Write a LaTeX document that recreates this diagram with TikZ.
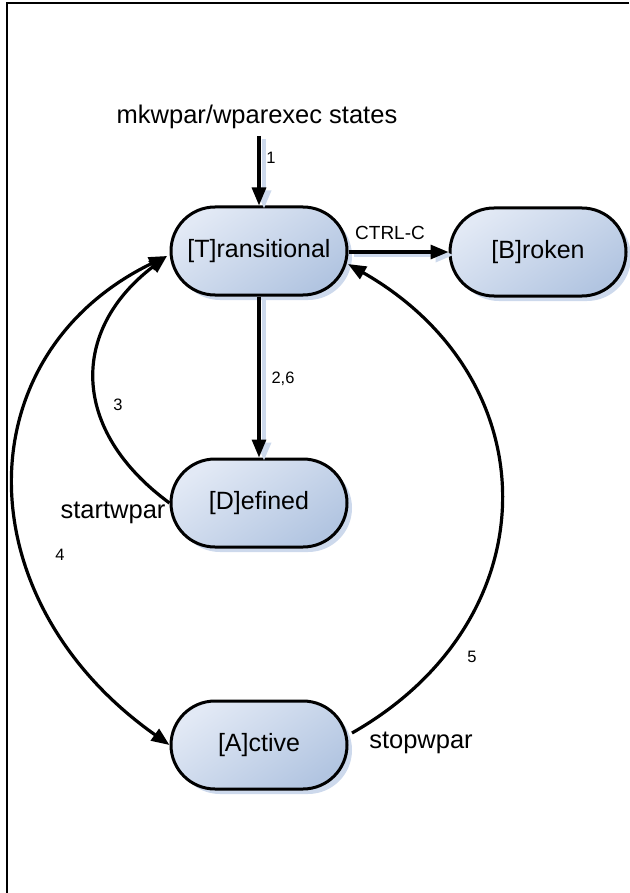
\documentclass[tikz,border=0pt]{standalone}
\usepackage{fontspec}
\setmainfont{Liberation Sans}
\usetikzlibrary{arrows.meta,shapes.misc,shadows}
\definecolor{stLight}{RGB}{226,233,245}
\definecolor{stDark}{RGB}{178,197,225}
\definecolor{stShadow}{RGB}{205,217,236}
\tikzset{
  tip/.tip={Triangle[length=18pt,width=14pt]},
  state/.style={rounded rectangle, draw=black, line width=3pt,
    minimum width=176pt, minimum height=88pt, inner sep=0pt,
    top color=stLight, bottom color=stDark, shading angle=35,
    drop shadow={fill=stShadow, opacity=1, shadow xshift=5pt, shadow yshift=-5pt},
    font=\fontsize{25}{30}\selectfont},
  trans/.style={line width=3.2pt, -tip},
  trans2/.style={line width=3.2pt, tip-tip},
  tshadow/.style={line width=3.5pt, draw=stShadow, -tip,
    transform canvas={shift={(5pt,-3pt)}}},
  small/.style={font=\fontsize{16.5}{19}\selectfont, inner sep=0pt},
  mid/.style={font=\fontsize{19}{23}\selectfont, inner sep=0pt},
  big/.style={font=\fontsize{25.5}{30}\selectfont, inner sep=0pt},
}
\begin{document}
\begin{tikzpicture}[x=1pt, y=-1pt]
  \useasboundingbox (0,0) rectangle (629,893);
  % page frame (top and left edges)
  \draw[line width=1.5pt] (629,3) -- (7,3) -- (7,893);

  % states
  \node[state] (T) at (259,251) {[T]ransitional};
  \node[state] (B) at (538,252) {[B]roken};
  \node[state] (D) at (259,503) {[D]efined};
  \node[state] (A) at (259,745) {[A]ctive};

  % entry point
  \node[big] (src) at (257,117) {mkwpar/wparexec states};
  \coordinate (srcEnd) at (259,136);

  % shadows under the straight transitions
  \draw[tshadow] (srcEnd) -- (T.north);
  \draw[tshadow] (T.east |- B.west) -- (B.west);
  \draw[tshadow] (T.south) -- (D.north);

  % straight transitions
  \draw[trans] (srcEnd) -- (T.north);
  \draw[trans] (T.east |- B.west) -- (B.west);
  \draw[trans] (T.south) -- (D.north);

  % curved transitions
  \coordinate (Tin) at (167,256);
  \draw[trans] (D.west) .. controls (70,430) and (70,330) .. (Tin);
  \draw[trans2] (Tin) .. controls (-36,355) and (-36,600) .. (A.west);
  \coordinate (Aout) at (352,733);
  \coordinate (Tin2) at (348,264);
  \draw[trans] (Aout) .. controls (551,620) and (551,380) .. (Tin2);

  % labels
  \node[small] (l1) at (271,158) {1};
  \node[mid] (lc) at (390,233) {CTRL-C};
  \node[small] (l26) at (283,379) {2,6};
  \node[small] (l3) at (118,405) {3};
  \node[big] (lstart) at (113,513) {startwpar};
  \node[small] (l4) at (60,555) {4};
  \node[small] (l5) at (472,657) {5};
  \node[big] (lstop) at (421,743) {stopwpar};
\end{tikzpicture}
\end{document}
